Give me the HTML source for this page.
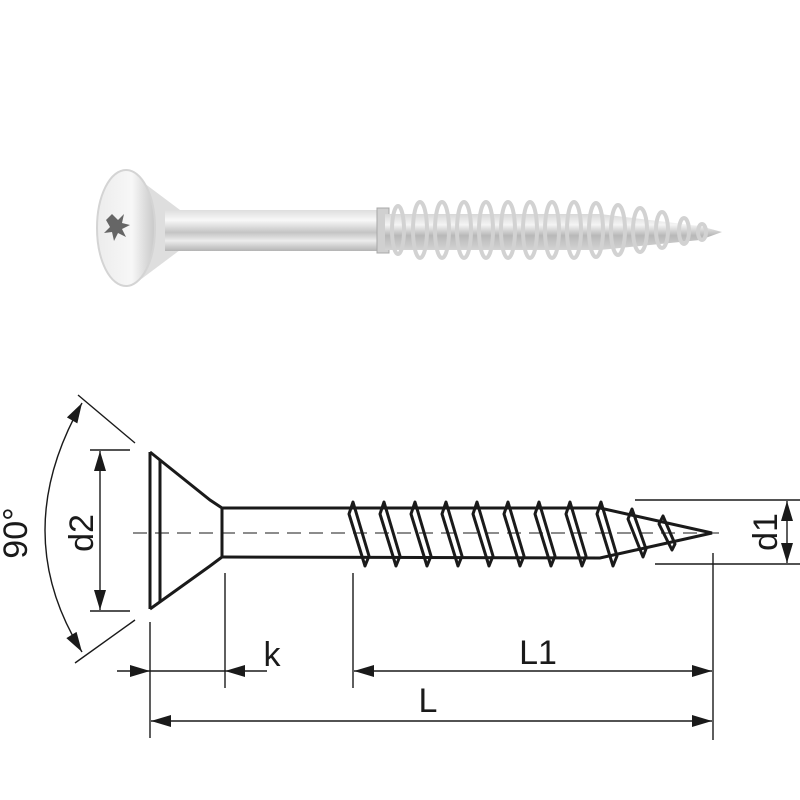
<!DOCTYPE html>
<html><head><meta charset="utf-8"><style>html,body{margin:0;padding:0;background:#fff}svg{display:block}</style></head>
<body>
<svg width="800" height="800" viewBox="0 0 800 800" xmlns="http://www.w3.org/2000/svg">
<defs>
<linearGradient id="sh" x1="0" y1="0" x2="0" y2="1">
<stop offset="0" stop-color="#dedede"/><stop offset="0.25" stop-color="#f8f8f8"/><stop offset="0.55" stop-color="#c4c4c4"/><stop offset="0.75" stop-color="#ececec"/><stop offset="1" stop-color="#b4b4b4"/>
</linearGradient>
<linearGradient id="hd" x1="0" y1="0" x2="1" y2="0">
<stop offset="0" stop-color="#ececec"/><stop offset="0.6" stop-color="#f7f7f7"/><stop offset="1" stop-color="#c8c8c8"/>
</linearGradient>
<linearGradient id="th" x1="0" y1="0" x2="0" y2="1">
<stop offset="0" stop-color="#d8d8d8"/><stop offset="0.3" stop-color="#f4f4f4"/><stop offset="0.6" stop-color="#b8b8b8"/><stop offset="1" stop-color="#d4d4d4"/>
</linearGradient>
<marker id="a" viewBox="0 0 20 12" refX="20" refY="6" markerWidth="22" markerHeight="12" markerUnits="userSpaceOnUse" orient="auto-start-reverse"><path d="M0,0 L20,6 L0,12 z" fill="#1a1a1a"/></marker>
</defs>

<!-- PHOTO -->
<g>
<path d="M140,180 L180,210 L180,250 L140,280 Z" fill="#dedede"/>
<rect x="165" y="210" width="222" height="41" fill="url(#sh)"/>
<rect x="377" y="208" width="12" height="45" fill="#d0d0d0" stroke="#a8a8a8"/>
<path d="M385,214 L600,214 L700,226 L722,232 L700,240 L600,250 L385,250 Z" fill="url(#th)"/>
<g fill="none" stroke="#d2d2d2" stroke-width="4">
<ellipse cx="398" cy="230" rx="6" ry="24"/>
<ellipse cx="420" cy="230" rx="7" ry="28"/>
<ellipse cx="442" cy="230" rx="7" ry="28"/>
<ellipse cx="464" cy="230" rx="7" ry="28"/>
<ellipse cx="486" cy="230" rx="7" ry="28"/>
<ellipse cx="508" cy="230" rx="7" ry="28"/>
<ellipse cx="530" cy="230" rx="7" ry="28"/>
<ellipse cx="552" cy="230" rx="7" ry="28"/>
<ellipse cx="574" cy="230" rx="7" ry="28"/>
<ellipse cx="596" cy="230" rx="7" ry="27"/>
<ellipse cx="618" cy="230" rx="7" ry="25"/>
<ellipse cx="640" cy="230" rx="7" ry="22"/>
<ellipse cx="662" cy="230" rx="6" ry="18"/>
<ellipse cx="684" cy="231" rx="5" ry="13"/>
<ellipse cx="702" cy="232" rx="4" ry="8"/>
</g>
<ellipse cx="126" cy="228" rx="29" ry="58" fill="url(#hd)" stroke="#d4d4d4" stroke-width="2"/>
<path d="M112,214 l6,6 6,-6 -2,9 8,2 -8,4 4,8 -8,-4 -4,8 -2,-9 -8,1 6,-6 -4,-7 z" fill="#666"/>
</g>

<!-- DRAWING -->
<g stroke="#1a1a1a" fill="none">
<line x1="133" y1="533" x2="720" y2="533" stroke-width="1" stroke-dasharray="14,8"/>
<g stroke-width="3">
<path d="M150,452 L150,609"/>
<path d="M160,460 L160,602"/>
<path d="M150,452 L210,500 L222,508 M150,609 L210,566 L222,557"/>
<path d="M222,508 L222,557"/>
<path d="M222,508 L600,508 L712,533 L600,558 L222,557"/>
</g>
<g stroke-width="3" stroke-linejoin="round">
<path d="M349,514 L353,502 L369,556 L365,566 Z"/>
<path d="M380,514 L384,502 L400,556 L396,566 Z"/>
<path d="M411,514 L415,502 L431,556 L427,566 Z"/>
<path d="M442,514 L446,502 L462,556 L458,566 Z"/>
<path d="M473,514 L477,502 L493,556 L489,566 Z"/>
<path d="M504,514 L508,502 L524,556 L520,566 Z"/>
<path d="M535,514 L539,502 L555,556 L551,566 Z"/>
<path d="M566,514 L570,502 L586,556 L582,566 Z"/>
<path d="M597,514 L601,502 L617,556 L613,566 Z"/>
<path d="M628,519 L632,509 L646,549 L643,557 Z"/>
<path d="M659,524 L663,516 L675,544 L672,550 Z"/>
</g>
<g stroke-width="1.4">
<line x1="90" y1="450" x2="130" y2="450"/>
<line x1="90" y1="611" x2="130" y2="611"/>
<line x1="78" y1="395" x2="135" y2="443"/>
<line x1="135" y1="620" x2="75" y2="663"/>
<line x1="150" y1="622" x2="150" y2="738"/>
<line x1="225" y1="573" x2="225" y2="688"/>
<line x1="353" y1="573" x2="353" y2="688"/>
<line x1="713" y1="553" x2="713" y2="740"/>
<line x1="635" y1="500" x2="800" y2="500"/>
<line x1="655" y1="564" x2="800" y2="564"/>
<line x1="100" y1="451" x2="100" y2="610" marker-start="url(#a)" marker-end="url(#a)"/>
<line x1="787" y1="501" x2="787" y2="563" marker-start="url(#a)" marker-end="url(#a)"/>
<path d="M82,403 Q8,533 82,652" marker-start="url(#a)" marker-end="url(#a)"/>
<line x1="117" y1="671" x2="150" y2="671" marker-end="url(#a)"/>
<line x1="150" y1="671" x2="225" y2="671"/>
<line x1="267" y1="671" x2="225" y2="671" marker-end="url(#a)"/>
<line x1="354" y1="671" x2="712" y2="671" marker-start="url(#a)" marker-end="url(#a)"/>
<line x1="151" y1="721" x2="712" y2="721" marker-start="url(#a)" marker-end="url(#a)"/>
</g>
</g>
<g font-family="Liberation Sans, sans-serif" fill="#1a1a1a">
<text x="272" y="666" font-size="34" text-anchor="middle">k</text>
<text x="538" y="664" font-size="34" text-anchor="middle">L1</text>
<text x="428" y="712" font-size="34" text-anchor="middle">L</text>
<text transform="translate(93,533) rotate(-90)" font-size="34" text-anchor="middle">d2</text>
<text transform="translate(777,532) rotate(-90)" font-size="34" text-anchor="middle">d1</text>
<text transform="translate(27,533) rotate(-90)" font-size="34" text-anchor="middle">90°</text>
</g>
</svg>
</body></html>
